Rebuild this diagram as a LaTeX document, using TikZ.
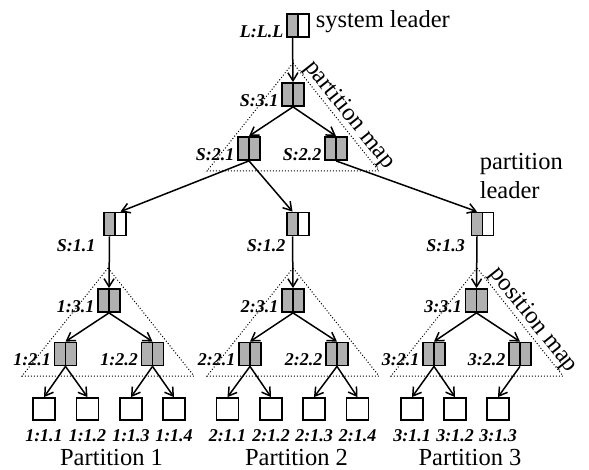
\documentclass[tikz,border=0pt]{standalone}
\usepackage{fontspec}
\setmainfont{Liberation Serif}
\usetikzlibrary{arrows.meta,positioning}

\begin{document}
\begin{tikzpicture}[x=1pt, y=-1pt, line width=1.5pt,
    pair/.style={draw, line width=1.8pt, minimum width=22pt, minimum height=23pt,
      inner sep=0pt,
      path picture={
        \fill[gray!62] (path picture bounding box.south west)
          rectangle (path picture bounding box.north);
        \draw (path picture bounding box.south) -- (path picture bounding box.north);}},
    mem/.style={pair, fill=gray!62},
    ldr/.style={pair, fill=white},
    leaf/.style={draw, line width=1.8pt, minimum size=22pt, inner sep=0pt},
    lab/.style={font=\fontsize{18}{20}\selectfont\bfseries\itshape, inner sep=0pt},
    txt/.style={font=\fontsize{24.5}{29}\selectfont, inner sep=0pt},
    fl/.style={-{Straight Barb[length=8pt, width=10pt]}},
    map/.style={dotted, line width=1pt}
  ]
    \useasboundingbox (0,0) rectangle (589,470);

    % partition map and position maps
    \foreach \x/\y in {293/63, 108/268, 293/268, 477/268} {
      \draw[map] (\x,\y) -- ++(-86,108) -- ++(172,0) -- cycle;
    }
    \path (293,63) -- ++(86,108)
      node[txt, pos=0.55, sloped, above=0pt] (pmap) {partition map};
    \path (477,268) -- ++(86,108)
      node[txt, pos=0.55, sloped, above=0pt] (posmap) {position map};

    % system leader and partition map
    \node[ldr] (lll) at (298,25.5) {};
    \node[mem] (s31) at (293,94.5) {};
    \node[mem] (s21) at (249,148.5) {};
    \node[mem] (s22) at (336,148.5) {};
    \node[txt, anchor=base west] (sysl) at (315,28) {system leader};
    \node[txt, anchor=north west, align=left] (partl) at (479,153)
      {partition\\leader};

    % partition leaders
    \node[ldr] (s11) at (115,224) {};
    \node[ldr] (s12) at (298,224) {};
    \node[ldr] (s13) at (482.5,224) {};

    \foreach \n/\t in {lll/L:L.L, s31/S:3.1, s21/S:2.1, s22/S:2.2} {
      \node[lab, left=2pt of \n, yshift=-6pt] (\n-l) {\t};
    }
    \node[lab, below left=2pt and 7pt of s11] (s11-l) {S:1.1};
    \node[lab, below left=2pt and 0pt of s12] (s12-l) {S:1.2};
    \node[lab, below left=2pt and 5pt of s13] (s13-l) {S:1.3};

    % position maps
    \foreach \n/\x/\t in {n131/109/1:3.1, n231/293/2:3.1, n331/476.5/3:3.1} {
      \node[mem] (\n) at (\x,300.5) {};
      \node[lab, left=2pt of \n, yshift=-6pt] (\n-l) {\t};
    }
    \foreach \n/\x/\t in {n121/65.5/1:2.1, n122/152.5/1:2.2, n221/250/2:2.1,
        n222/337/2:2.2, n321/434/3:2.1, n322/520/3:2.2} {
      \node[mem] (\n) at (\x,354) {};
      \node[lab, left=2pt of \n, yshift=-6pt] (\n-l) {\t};
    }
    \foreach \n/\x/\t in {n111/44/1:1.1, n112/87.5/1:1.2, n113/131/1:1.3,
        n114/174/1:1.4, n211/227.5/2:1.1, n212/271/2:1.2, n213/314/2:1.3,
        n214/357.5/2:1.4, n311/412/3:1.1, n312/455/3:1.2, n313/498/3:1.3} {
      \node[leaf] (\n) at (\x,409) {};
      \node[lab, below=8pt of \n] (\n-l) {\t};
    }

    \node[txt, anchor=base] (part1) at (111.5,465) {Partition 1};
    \node[txt, anchor=base] (part2) at (296.5,465) {Partition 2};
    \node[txt, anchor=base] (part3) at (470,465) {Partition 3};

    % connectors
    \draw[fl] ([xshift=-5.5pt]lll.south) -- (s31.north);
    \draw[fl] (s21.south) -- ([xshift=5.5pt]s11.north);
    \draw[fl] (s21.south) -- ([xshift=-5.5pt]s12.north);
    \draw[fl] (s22.south) -- ([xshift=-5.5pt]s13.north);
    \foreach \p in {1,2,3} {
      \draw[fl] ([xshift=-5.5pt]s1\p.south) -- (n\p31.north);
    }
    \foreach \a/\b in {s31/s21, s31/s22, n131/n121, n131/n122, n231/n221,
        n231/n222, n331/n321, n331/n322, n121/n111, n121/n112, n122/n113,
        n122/n114, n221/n211, n221/n212, n222/n213, n222/n214, n321/n311,
        n321/n312, n322/n313} {
      \draw[fl] (\a.south) -- (\b.north);
    }
\end{tikzpicture}
\end{document}
